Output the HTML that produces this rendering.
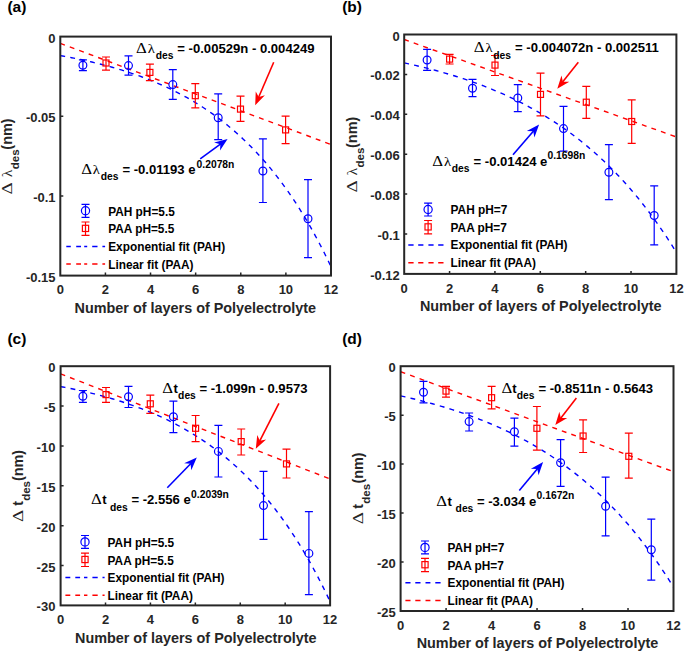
<!DOCTYPE html>
<html><head><meta charset="utf-8"><style>
html,body{margin:0;padding:0;background:#fff;overflow:hidden;}
svg{display:block;}
</style></head><body>
<svg width="685" height="653" viewBox="0 0 685 653" font-family='"Liberation Sans", sans-serif'>
<rect width="685" height="653" fill="#fff"/>
<clipPath id="ca"><rect x="60.3" y="36.6" width="270.7" height="239"/></clipPath>
<line x1="60.3" y1="43.37" x2="331" y2="144.51" stroke="#ff0000" stroke-width="1.4" stroke-dasharray="4.9 5.2" clip-path="url(#ca)"/>
<polyline points="60.3,55.61 62.56,56.01 64.81,56.42 67.07,56.83 69.32,57.26 71.58,57.69 73.83,58.13 76.09,58.58 78.35,59.05 80.6,59.52 82.86,60 85.11,60.49 87.37,60.99 89.63,61.5 91.88,62.03 94.14,62.56 96.39,63.11 98.65,63.66 100.91,64.23 103.16,64.81 105.42,65.4 107.67,66.01 109.93,66.63 112.18,67.26 114.44,67.9 116.7,68.56 118.95,69.23 121.21,69.91 123.46,70.61 125.72,71.33 127.97,72.06 130.23,72.8 132.49,73.56 134.74,74.34 137,75.13 139.25,75.94 141.51,76.76 143.77,77.61 146.02,78.47 148.28,79.35 150.53,80.24 152.79,81.16 155.05,82.1 157.3,83.05 159.56,84.03 161.81,85.02 164.07,86.04 166.32,87.08 168.58,88.14 170.84,89.22 173.09,90.33 175.35,91.45 177.6,92.61 179.86,93.78 182.12,94.98 184.37,96.21 186.63,97.46 188.88,98.74 191.14,100.04 193.39,101.37 195.65,102.73 197.91,104.12 200.16,105.54 202.42,106.99 204.67,108.47 206.93,109.98 209.19,111.52 211.44,113.09 213.7,114.69 215.95,116.33 218.21,118.01 220.46,119.72 222.72,121.46 224.98,123.25 227.23,125.06 229.49,126.92 231.74,128.82 234,130.76 236.25,132.73 238.51,134.75 240.77,136.81 243.02,138.92 245.28,141.06 247.53,143.26 249.79,145.5 252.05,147.78 254.3,150.12 256.56,152.5 258.81,154.94 261.07,157.42 263.32,159.96 265.58,162.55 267.84,165.19 270.09,167.89 272.35,170.65 274.6,173.46 276.86,176.34 279.12,179.27 281.37,182.27 283.63,185.33 285.88,188.45 288.14,191.64 290.4,194.89 292.65,198.22 294.91,201.61 297.16,205.07 299.42,208.61 301.67,212.22 303.93,215.91 306.19,219.68 308.44,223.52 310.7,227.45 312.95,231.45 315.21,235.54 317.47,239.72 319.72,243.99 321.98,248.34 324.23,252.79 326.49,257.33 328.74,261.96 331,266.69" fill="none" stroke="#0000ff" stroke-width="1.4" stroke-dasharray="4.9 5.2" clip-path="url(#ca)"/>
<path d="M82.9 59.9V70.7M78.9 59.9H86.9M78.9 70.7H86.9" stroke="#0000ff" stroke-width="1.2" fill="none"/>
<circle cx="82.9" cy="65.2" r="3.9" fill="none" stroke="#0000ff" stroke-width="1.2"/>
<path d="M128.5 55.8V75.2M124.5 55.8H132.5M124.5 75.2H132.5" stroke="#0000ff" stroke-width="1.2" fill="none"/>
<circle cx="128.5" cy="65.6" r="3.9" fill="none" stroke="#0000ff" stroke-width="1.2"/>
<path d="M172.8 69.7V99.4M168.8 69.7H176.8M168.8 99.4H176.8" stroke="#0000ff" stroke-width="1.2" fill="none"/>
<circle cx="172.8" cy="84.6" r="3.9" fill="none" stroke="#0000ff" stroke-width="1.2"/>
<path d="M218.2 93.8V139.7M214.2 93.8H222.2M214.2 139.7H222.2" stroke="#0000ff" stroke-width="1.2" fill="none"/>
<circle cx="218.2" cy="117.7" r="3.9" fill="none" stroke="#0000ff" stroke-width="1.2"/>
<path d="M262.9 138.8V202.5M258.9 138.8H266.9M258.9 202.5H266.9" stroke="#0000ff" stroke-width="1.2" fill="none"/>
<circle cx="262.9" cy="171" r="3.9" fill="none" stroke="#0000ff" stroke-width="1.2"/>
<path d="M308 179.6V257.7M304 179.6H312M304 257.7H312" stroke="#0000ff" stroke-width="1.2" fill="none"/>
<circle cx="308" cy="218.8" r="3.9" fill="none" stroke="#0000ff" stroke-width="1.2"/>
<path d="M106 57V70.1M102 57H110M102 70.1H110" stroke="#ff0000" stroke-width="1.2" fill="none"/>
<rect x="103" y="60" width="6" height="6" fill="none" stroke="#ff0000" stroke-width="1.2"/>
<path d="M149.9 64.2V80.6M145.9 64.2H153.9M145.9 80.6H153.9" stroke="#ff0000" stroke-width="1.2" fill="none"/>
<rect x="146.9" y="69.4" width="6" height="6" fill="none" stroke="#ff0000" stroke-width="1.2"/>
<path d="M195.3 83.6V107.9M191.3 83.6H199.3M191.3 107.9H199.3" stroke="#ff0000" stroke-width="1.2" fill="none"/>
<rect x="192.3" y="92.7" width="6" height="6" fill="none" stroke="#ff0000" stroke-width="1.2"/>
<path d="M240.5 96.2V121.4M236.5 96.2H244.5M236.5 121.4H244.5" stroke="#ff0000" stroke-width="1.2" fill="none"/>
<rect x="237.5" y="106.1" width="6" height="6" fill="none" stroke="#ff0000" stroke-width="1.2"/>
<path d="M285.6 116.2V143.7M281.6 116.2H289.6M281.6 143.7H289.6" stroke="#ff0000" stroke-width="1.2" fill="none"/>
<rect x="282.6" y="126.9" width="6" height="6" fill="none" stroke="#ff0000" stroke-width="1.2"/>
<rect x="60.3" y="36.6" width="270.7" height="239" fill="none" stroke="#262626" stroke-width="2"/>
<path d="M105.42 275.6V272.6M150.53 275.6V272.6M195.65 275.6V272.6M240.77 275.6V272.6M285.88 275.6V272.6M60.3 116.27H63.3M60.3 195.93H63.3" stroke="#262626" stroke-width="1.5"/>
<text x="60.3" y="294.3" font-size="13" font-weight="bold" fill="#262626" text-anchor="middle">0</text>
<text x="105.42" y="294.3" font-size="13" font-weight="bold" fill="#262626" text-anchor="middle">2</text>
<text x="150.53" y="294.3" font-size="13" font-weight="bold" fill="#262626" text-anchor="middle">4</text>
<text x="195.65" y="294.3" font-size="13" font-weight="bold" fill="#262626" text-anchor="middle">6</text>
<text x="240.77" y="294.3" font-size="13" font-weight="bold" fill="#262626" text-anchor="middle">8</text>
<text x="285.88" y="294.3" font-size="13" font-weight="bold" fill="#262626" text-anchor="middle">10</text>
<text x="331" y="294.3" font-size="13" font-weight="bold" fill="#262626" text-anchor="middle">12</text>
<text x="55.6" y="42.6" font-size="13" font-weight="bold" fill="#262626" text-anchor="end">0</text>
<text x="55.6" y="122.27" font-size="13" font-weight="bold" fill="#262626" text-anchor="end">-0.05</text>
<text x="55.6" y="201.93" font-size="13" font-weight="bold" fill="#262626" text-anchor="end">-0.1</text>
<text x="55.6" y="281.6" font-size="13" font-weight="bold" fill="#262626" text-anchor="end">-0.15</text>
<text x="195.35" y="312.8" font-size="14.4" font-weight="bold" fill="#262626" text-anchor="middle">Number of layers of Polyelectrolyte</text>
<g transform="translate(11.9,193.8) rotate(-90)" fill="#262626"><text x="0" y="0" font-family='"Liberation Serif", serif' font-size="15.5" transform="translate(-0.61,0) scale(1.22,1)">Δ</text><text x="0" y="0" font-family='"Liberation Serif", serif' font-size="14.4" transform="translate(16.6,0) scale(1.1,1)">λ</text><text x="24.6" y="6.9" font-size="11.5" font-weight="bold">des</text><text x="44.15" y="0" font-size="14.4" font-weight="bold">(nm)</text></g>
<text x="7.4" y="11.9" font-size="15.5" font-weight="bold" fill="#000">(a)</text>
<text x="0" y="0" font-family='"Liberation Serif", serif' font-size="14" fill="#000" transform="translate(135.9,53) scale(1.2,1)">Δ</text>
<text x="0" y="0" font-family='"Liberation Serif", serif' font-size="13.5" fill="#000" transform="translate(147.83,53) scale(1.08,1)">λ</text>
<text x="155.8" y="59.3" font-size="10.3" font-weight="bold" fill="#000">des</text>
<text x="177.3" y="53" font-size="13.1" font-weight="bold" fill="#000">= -0.00529n - 0.004249</text>
<text x="0" y="0" font-family='"Liberation Serif", serif' font-size="14" fill="#000" transform="translate(81.2,173.8) scale(1.2,1)">Δ</text>
<text x="0" y="0" font-family='"Liberation Serif", serif' font-size="13.5" fill="#000" transform="translate(92.73,173.8) scale(1.08,1)">λ</text>
<text x="100.7" y="179.9" font-size="10.3" font-weight="bold" fill="#000">des</text>
<text x="122.4" y="173.8" font-size="13.1" font-weight="bold" fill="#000">= -0.01193 e</text>
<text x="196.6" y="167.7" font-size="10.3" font-weight="bold" fill="#000">0.2078n</text>
<line x1="273.7" y1="62.2" x2="258.55" y2="97.49" stroke="#ff0000" stroke-width="1.6"/>
<polygon points="255.2,105.3 255.73,91.38 258.75,97.03 264.92,95.33" fill="#ff0000"/>
<line x1="200.2" y1="158.9" x2="220.73" y2="143.91" stroke="#0000ff" stroke-width="1.6"/>
<polygon points="227.6,138.9 220.05,150.6 220.33,144.21 214.15,142.53" fill="#0000ff"/>
<path d="M85.5 204.4V217.3M81.5 204.4H89.5M81.5 217.3H89.5" stroke="#0000ff" stroke-width="1.2" fill="none"/>
<circle cx="85.5" cy="210.8" r="4.1" fill="none" stroke="#0000ff" stroke-width="1.2"/>
<path d="M85.5 222V235.4M81.5 222H89.5M81.5 235.4H89.5" stroke="#ff0000" stroke-width="1.2" fill="none"/>
<rect x="82.4" y="225.3" width="6.2" height="6.2" fill="none" stroke="#ff0000" stroke-width="1.2"/>
<path d="M66.3 246.4H70.8M76.2 246.4H81M84.2 246.4H87.2M92.2 246.4H97.5M102.4 246.4H105.1" stroke="#0000ff" stroke-width="1.5" fill="none"/>
<path d="M66.3 263.9H70.8M76.2 263.9H81M84.2 263.9H87.2M92.2 263.9H97.5M102.4 263.9H105.1" stroke="#ff0000" stroke-width="1.5" fill="none"/>
<text x="108.2" y="215.6" font-size="11.85" font-weight="bold" fill="#000">PAH pH=5.5</text>
<text x="108.2" y="233.4" font-size="11.85" font-weight="bold" fill="#000">PAA pH=5.5</text>
<text x="108.2" y="250.8" font-size="11.85" font-weight="bold" fill="#000">Exponential fit (PAH)</text>
<text x="108.2" y="268.5" font-size="11.85" font-weight="bold" fill="#000">Linear fit (PAA)</text>
<clipPath id="cb"><rect x="404.2" y="34.5" width="272.2" height="239.4"/></clipPath>
<line x1="404.2" y1="39.51" x2="676.4" y2="136.99" stroke="#ff0000" stroke-width="1.4" stroke-dasharray="4.9 5.2" clip-path="url(#cb)"/>
<polyline points="404.2,62.91 406.47,63.4 408.74,63.89 411,64.39 413.27,64.91 415.54,65.43 417.81,65.96 420.08,66.49 422.35,67.04 424.62,67.6 426.88,68.17 429.15,68.74 431.42,69.33 433.69,69.93 435.96,70.53 438.22,71.15 440.49,71.78 442.76,72.42 445.03,73.06 447.3,73.73 449.57,74.4 451.83,75.08 454.1,75.78 456.37,76.48 458.64,77.2 460.91,77.93 463.18,78.68 465.44,79.43 467.71,80.2 469.98,80.98 472.25,81.78 474.52,82.59 476.79,83.41 479.06,84.25 481.32,85.1 483.59,85.97 485.86,86.85 488.13,87.75 490.4,88.66 492.66,89.59 494.93,90.53 497.2,91.49 499.47,92.47 501.74,93.46 504.01,94.47 506.27,95.5 508.54,96.54 510.81,97.6 513.08,98.68 515.35,99.78 517.62,100.9 519.88,102.04 522.15,103.19 524.42,104.37 526.69,105.57 528.96,106.78 531.23,108.02 533.5,109.28 535.76,110.56 538.03,111.86 540.3,113.19 542.57,114.54 544.84,115.91 547.11,117.3 549.37,118.72 551.64,120.16 553.91,121.63 556.18,123.12 558.45,124.64 560.72,126.18 562.98,127.75 565.25,129.35 567.52,130.97 569.79,132.62 572.06,134.31 574.33,136.01 576.59,137.75 578.86,139.52 581.13,141.32 583.4,143.15 585.67,145.01 587.93,146.9 590.2,148.83 592.47,150.78 594.74,152.78 597.01,154.8 599.28,156.86 601.55,158.96 603.81,161.09 606.08,163.26 608.35,165.46 610.62,167.7 612.89,169.98 615.15,172.3 617.42,174.66 619.69,177.07 621.96,179.51 624.23,181.99 626.5,184.52 628.76,187.08 631.03,189.7 633.3,192.36 635.57,195.06 637.84,197.81 640.11,200.6 642.38,203.45 644.64,206.34 646.91,209.29 649.18,212.28 651.45,215.32 653.72,218.42 655.99,221.57 658.25,224.77 660.52,228.03 662.79,231.35 665.06,234.72 667.33,238.15 669.6,241.63 671.86,245.18 674.13,248.79 676.4,252.46" fill="none" stroke="#0000ff" stroke-width="1.4" stroke-dasharray="4.9 5.2" clip-path="url(#cb)"/>
<path d="M427.1 49.3V70.4M423.1 49.3H431.1M423.1 70.4H431.1" stroke="#0000ff" stroke-width="1.2" fill="none"/>
<circle cx="427.1" cy="60" r="3.9" fill="none" stroke="#0000ff" stroke-width="1.2"/>
<path d="M472.5 79.4V96.7M468.5 79.4H476.5M468.5 96.7H476.5" stroke="#0000ff" stroke-width="1.2" fill="none"/>
<circle cx="472.5" cy="88.2" r="3.9" fill="none" stroke="#0000ff" stroke-width="1.2"/>
<path d="M517.8 84.7V111.7M513.8 84.7H521.8M513.8 111.7H521.8" stroke="#0000ff" stroke-width="1.2" fill="none"/>
<circle cx="517.8" cy="98" r="3.9" fill="none" stroke="#0000ff" stroke-width="1.2"/>
<path d="M563.5 106.4V151.1M559.5 106.4H567.5M559.5 151.1H567.5" stroke="#0000ff" stroke-width="1.2" fill="none"/>
<circle cx="563.5" cy="128.6" r="3.9" fill="none" stroke="#0000ff" stroke-width="1.2"/>
<path d="M608.9 144.7V199.7M604.9 144.7H612.9M604.9 199.7H612.9" stroke="#0000ff" stroke-width="1.2" fill="none"/>
<circle cx="608.9" cy="172.3" r="3.9" fill="none" stroke="#0000ff" stroke-width="1.2"/>
<path d="M654.2 185.9V244.8M650.2 185.9H658.2M650.2 244.8H658.2" stroke="#0000ff" stroke-width="1.2" fill="none"/>
<circle cx="654.2" cy="215.5" r="3.9" fill="none" stroke="#0000ff" stroke-width="1.2"/>
<path d="M449.6 54.4V64M445.6 54.4H453.6M445.6 64H453.6" stroke="#ff0000" stroke-width="1.2" fill="none"/>
<rect x="446.6" y="56.1" width="6" height="6" fill="none" stroke="#ff0000" stroke-width="1.2"/>
<path d="M495 55.5V75.5M491 55.5H499M491 75.5H499" stroke="#ff0000" stroke-width="1.2" fill="none"/>
<rect x="492" y="62.1" width="6" height="6" fill="none" stroke="#ff0000" stroke-width="1.2"/>
<path d="M540.5 73.2V115.9M536.5 73.2H544.5M536.5 115.9H544.5" stroke="#ff0000" stroke-width="1.2" fill="none"/>
<rect x="537.5" y="91.4" width="6" height="6" fill="none" stroke="#ff0000" stroke-width="1.2"/>
<path d="M586.3 86.3V118.3M582.3 86.3H590.3M582.3 118.3H590.3" stroke="#ff0000" stroke-width="1.2" fill="none"/>
<rect x="583.3" y="99.2" width="6" height="6" fill="none" stroke="#ff0000" stroke-width="1.2"/>
<path d="M631.7 99.9V143.4M627.7 99.9H635.7M627.7 143.4H635.7" stroke="#ff0000" stroke-width="1.2" fill="none"/>
<rect x="628.7" y="118.5" width="6" height="6" fill="none" stroke="#ff0000" stroke-width="1.2"/>
<rect x="404.2" y="34.5" width="272.2" height="239.4" fill="none" stroke="#262626" stroke-width="2"/>
<path d="M449.57 273.9V270.9M494.93 273.9V270.9M540.3 273.9V270.9M585.67 273.9V270.9M631.03 273.9V270.9M404.2 74.4H407.2M404.2 114.3H407.2M404.2 154.2H407.2M404.2 194.1H407.2M404.2 234H407.2" stroke="#262626" stroke-width="1.5"/>
<text x="404.2" y="292.6" font-size="13" font-weight="bold" fill="#262626" text-anchor="middle">0</text>
<text x="449.57" y="292.6" font-size="13" font-weight="bold" fill="#262626" text-anchor="middle">2</text>
<text x="494.93" y="292.6" font-size="13" font-weight="bold" fill="#262626" text-anchor="middle">4</text>
<text x="540.3" y="292.6" font-size="13" font-weight="bold" fill="#262626" text-anchor="middle">6</text>
<text x="585.67" y="292.6" font-size="13" font-weight="bold" fill="#262626" text-anchor="middle">8</text>
<text x="631.03" y="292.6" font-size="13" font-weight="bold" fill="#262626" text-anchor="middle">10</text>
<text x="676.4" y="292.6" font-size="13" font-weight="bold" fill="#262626" text-anchor="middle">12</text>
<text x="399.8" y="40.5" font-size="13" font-weight="bold" fill="#262626" text-anchor="end">0</text>
<text x="399.8" y="80.4" font-size="13" font-weight="bold" fill="#262626" text-anchor="end">-0.02</text>
<text x="399.8" y="120.3" font-size="13" font-weight="bold" fill="#262626" text-anchor="end">-0.04</text>
<text x="399.8" y="160.2" font-size="13" font-weight="bold" fill="#262626" text-anchor="end">-0.06</text>
<text x="399.8" y="200.1" font-size="13" font-weight="bold" fill="#262626" text-anchor="end">-0.08</text>
<text x="399.8" y="240" font-size="13" font-weight="bold" fill="#262626" text-anchor="end">-0.1</text>
<text x="399.8" y="279.9" font-size="13" font-weight="bold" fill="#262626" text-anchor="end">-0.12</text>
<text x="540.7" y="311.4" font-size="14.4" font-weight="bold" fill="#262626" text-anchor="middle">Number of layers of Polyelectrolyte</text>
<g transform="translate(356.6,192) rotate(-90)" fill="#262626"><text x="0" y="0" font-family='"Liberation Serif", serif' font-size="15.5" transform="translate(-0.61,0) scale(1.22,1)">Δ</text><text x="0" y="0" font-family='"Liberation Serif", serif' font-size="14.4" transform="translate(16.5,0) scale(1.1,1)">λ</text><text x="24.5" y="6.9" font-size="11.5" font-weight="bold">des</text><text x="44.05" y="0" font-size="14.4" font-weight="bold">(nm)</text></g>
<text x="342.2" y="11.9" font-size="15.5" font-weight="bold" fill="#000">(b)</text>
<text x="0" y="0" font-family='"Liberation Serif", serif' font-size="14" fill="#000" transform="translate(473.8,52.4) scale(1.2,1)">Δ</text>
<text x="0" y="0" font-family='"Liberation Serif", serif' font-size="13.5" fill="#000" transform="translate(485.53,52.4) scale(1.08,1)">λ</text>
<text x="493.3" y="58.6" font-size="10.3" font-weight="bold" fill="#000">des</text>
<text x="515" y="52.4" font-size="13.1" font-weight="bold" fill="#000">= -0.004072n - 0.002511</text>
<text x="0" y="0" font-family='"Liberation Serif", serif' font-size="14" fill="#000" transform="translate(432.2,165.8) scale(1.2,1)">Δ</text>
<text x="0" y="0" font-family='"Liberation Serif", serif' font-size="13.5" fill="#000" transform="translate(443.93,165.8) scale(1.08,1)">λ</text>
<text x="451.8" y="171.5" font-size="10.3" font-weight="bold" fill="#000">des</text>
<text x="473.5" y="165.8" font-size="13.1" font-weight="bold" fill="#000">= -0.01424 e</text>
<text x="547.5" y="159.3" font-size="10.3" font-weight="bold" fill="#000">0.1698n</text>
<line x1="578.3" y1="62.3" x2="562.59" y2="82.05" stroke="#ff0000" stroke-width="1.6"/>
<polygon points="557.3,88.7 561.48,75.41 562.9,81.66 569.31,81.64" fill="#ff0000"/>
<line x1="513" y1="154.8" x2="533.55" y2="130.94" stroke="#0000ff" stroke-width="1.6"/>
<polygon points="539.1,124.5 534.4,137.61 533.23,131.32 526.83,131.09" fill="#0000ff"/>
<path d="M428.1 203.1V216M424.1 203.1H432.1M424.1 216H432.1" stroke="#0000ff" stroke-width="1.2" fill="none"/>
<circle cx="428.1" cy="209.5" r="4.1" fill="none" stroke="#0000ff" stroke-width="1.2"/>
<path d="M428.1 220.5V233.9M424.1 220.5H432.1M424.1 233.9H432.1" stroke="#ff0000" stroke-width="1.2" fill="none"/>
<rect x="425" y="223.8" width="6.2" height="6.2" fill="none" stroke="#ff0000" stroke-width="1.2"/>
<path d="M408.3 244.9H413.6M418.2 244.9H423.4M428.4 244.9H433.6M438.2 244.9H443.5" stroke="#0000ff" stroke-width="1.5" fill="none"/>
<path d="M408.3 262.7H413.6M418.2 262.7H423.4M428.4 262.7H433.6M438.2 262.7H443.5" stroke="#ff0000" stroke-width="1.5" fill="none"/>
<text x="450.6" y="214.3" font-size="11.85" font-weight="bold" fill="#000">PAH pH=7</text>
<text x="450.6" y="231.9" font-size="11.85" font-weight="bold" fill="#000">PAA pH=7</text>
<text x="450.6" y="249.2" font-size="11.85" font-weight="bold" fill="#000">Exponential fit (PAH)</text>
<text x="450.6" y="266.7" font-size="11.85" font-weight="bold" fill="#000">Linear fit (PAA)</text>
<clipPath id="cc"><rect x="60.6" y="366.2" width="269.5" height="239.2"/></clipPath>
<line x1="60.6" y1="373.83" x2="330.1" y2="478.99" stroke="#ff0000" stroke-width="1.4" stroke-dasharray="4.9 5.2" clip-path="url(#cc)"/>
<polyline points="60.6,386.58 62.85,387 65.09,387.43 67.34,387.87 69.58,388.31 71.83,388.77 74.08,389.23 76.32,389.71 78.57,390.19 80.81,390.68 83.06,391.19 85.3,391.7 87.55,392.23 89.8,392.77 92.04,393.31 94.29,393.87 96.53,394.44 98.78,395.02 101.03,395.62 103.27,396.22 105.52,396.84 107.76,397.47 110.01,398.12 112.25,398.77 114.5,399.45 116.75,400.13 118.99,400.83 121.24,401.54 123.48,402.27 125.73,403.01 127.97,403.77 130.22,404.55 132.47,405.34 134.71,406.14 136.96,406.96 139.2,407.8 141.45,408.66 143.7,409.54 145.94,410.43 148.19,411.34 150.43,412.27 152.68,413.22 154.93,414.19 157.17,415.18 159.42,416.18 161.66,417.21 163.91,418.26 166.15,419.34 168.4,420.43 170.65,421.55 172.89,422.69 175.14,423.85 177.38,425.04 179.63,426.25 181.88,427.49 184.12,428.75 186.37,430.04 188.61,431.36 190.86,432.7 193.1,434.07 195.35,435.47 197.6,436.89 199.84,438.35 202.09,439.83 204.33,441.35 206.58,442.9 208.82,444.48 211.07,446.09 213.32,447.74 215.56,449.42 217.81,451.13 220.05,452.88 222.3,454.67 224.55,456.49 226.79,458.35 229.04,460.25 231.28,462.18 233.53,464.16 235.78,466.18 238.02,468.24 240.27,470.34 242.51,472.49 244.76,474.68 247,476.91 249.25,479.19 251.5,481.52 253.74,483.89 255.99,486.32 258.23,488.79 260.48,491.32 262.73,493.9 264.97,496.53 267.22,499.21 269.46,501.95 271.71,504.75 273.95,507.6 276.2,510.51 278.45,513.49 280.69,516.52 282.94,519.62 285.18,522.78 287.43,526 289.68,529.29 291.92,532.65 294.17,536.08 296.41,539.58 298.66,543.15 300.9,546.8 303.15,550.52 305.4,554.32 307.64,558.19 309.89,562.15 312.13,566.18 314.38,570.3 316.62,574.51 318.87,578.8 321.12,583.18 323.36,587.65 325.61,592.21 327.85,596.86 330.1,601.61" fill="none" stroke="#0000ff" stroke-width="1.4" stroke-dasharray="4.9 5.2" clip-path="url(#cc)"/>
<path d="M82.9 390.5V402.4M78.9 390.5H86.9M78.9 402.4H86.9" stroke="#0000ff" stroke-width="1.2" fill="none"/>
<circle cx="82.9" cy="396.2" r="3.9" fill="none" stroke="#0000ff" stroke-width="1.2"/>
<path d="M128.5 386.4V407.5M124.5 386.4H132.5M124.5 407.5H132.5" stroke="#0000ff" stroke-width="1.2" fill="none"/>
<circle cx="128.5" cy="396.7" r="3.9" fill="none" stroke="#0000ff" stroke-width="1.2"/>
<path d="M173.4 401.2V432.6M169.4 401.2H177.4M169.4 432.6H177.4" stroke="#0000ff" stroke-width="1.2" fill="none"/>
<circle cx="173.4" cy="416.7" r="3.9" fill="none" stroke="#0000ff" stroke-width="1.2"/>
<path d="M218.4 425.3V477M214.4 425.3H222.4M214.4 477H222.4" stroke="#0000ff" stroke-width="1.2" fill="none"/>
<circle cx="218.4" cy="451.4" r="3.9" fill="none" stroke="#0000ff" stroke-width="1.2"/>
<path d="M263.5 471.3V539.3M259.5 471.3H267.5M259.5 539.3H267.5" stroke="#0000ff" stroke-width="1.2" fill="none"/>
<circle cx="263.5" cy="505.6" r="3.9" fill="none" stroke="#0000ff" stroke-width="1.2"/>
<path d="M308.9 511.7V594.7M304.9 511.7H312.9M304.9 594.7H312.9" stroke="#0000ff" stroke-width="1.2" fill="none"/>
<circle cx="308.9" cy="553.4" r="3.9" fill="none" stroke="#0000ff" stroke-width="1.2"/>
<path d="M106 387.5V402.4M102 387.5H110M102 402.4H110" stroke="#ff0000" stroke-width="1.2" fill="none"/>
<rect x="103" y="391.6" width="6" height="6" fill="none" stroke="#ff0000" stroke-width="1.2"/>
<path d="M150.3 395.2V413.4M146.3 395.2H154.3M146.3 413.4H154.3" stroke="#ff0000" stroke-width="1.2" fill="none"/>
<rect x="147.3" y="400.8" width="6" height="6" fill="none" stroke="#ff0000" stroke-width="1.2"/>
<path d="M195.6 415.5V441.6M191.6 415.5H199.6M191.6 441.6H199.6" stroke="#ff0000" stroke-width="1.2" fill="none"/>
<rect x="192.6" y="425.3" width="6" height="6" fill="none" stroke="#ff0000" stroke-width="1.2"/>
<path d="M241.2 429V455M237.2 429H245.2M237.2 455H245.2" stroke="#ff0000" stroke-width="1.2" fill="none"/>
<rect x="238.2" y="438.6" width="6" height="6" fill="none" stroke="#ff0000" stroke-width="1.2"/>
<path d="M286.5 449.2V478M282.5 449.2H290.5M282.5 478H290.5" stroke="#ff0000" stroke-width="1.2" fill="none"/>
<rect x="283.5" y="460.9" width="6" height="6" fill="none" stroke="#ff0000" stroke-width="1.2"/>
<rect x="60.6" y="366.2" width="269.5" height="239.2" fill="none" stroke="#262626" stroke-width="2"/>
<path d="M105.52 605.4V602.4M150.43 605.4V602.4M195.35 605.4V602.4M240.27 605.4V602.4M285.18 605.4V602.4M60.6 406.07H63.6M60.6 445.93H63.6M60.6 485.8H63.6M60.6 525.67H63.6M60.6 565.53H63.6" stroke="#262626" stroke-width="1.5"/>
<text x="60.6" y="623.7" font-size="13" font-weight="bold" fill="#262626" text-anchor="middle">0</text>
<text x="105.52" y="623.7" font-size="13" font-weight="bold" fill="#262626" text-anchor="middle">2</text>
<text x="150.43" y="623.7" font-size="13" font-weight="bold" fill="#262626" text-anchor="middle">4</text>
<text x="195.35" y="623.7" font-size="13" font-weight="bold" fill="#262626" text-anchor="middle">6</text>
<text x="240.27" y="623.7" font-size="13" font-weight="bold" fill="#262626" text-anchor="middle">8</text>
<text x="285.18" y="623.7" font-size="13" font-weight="bold" fill="#262626" text-anchor="middle">10</text>
<text x="330.1" y="623.7" font-size="13" font-weight="bold" fill="#262626" text-anchor="middle">12</text>
<text x="55.4" y="372.2" font-size="13" font-weight="bold" fill="#262626" text-anchor="end">0</text>
<text x="55.4" y="412.07" font-size="13" font-weight="bold" fill="#262626" text-anchor="end">-5</text>
<text x="55.4" y="451.93" font-size="13" font-weight="bold" fill="#262626" text-anchor="end">-10</text>
<text x="55.4" y="491.8" font-size="13" font-weight="bold" fill="#262626" text-anchor="end">-15</text>
<text x="55.4" y="531.67" font-size="13" font-weight="bold" fill="#262626" text-anchor="end">-20</text>
<text x="55.4" y="571.53" font-size="13" font-weight="bold" fill="#262626" text-anchor="end">-25</text>
<text x="55.4" y="611.4" font-size="13" font-weight="bold" fill="#262626" text-anchor="end">-30</text>
<text x="195.75" y="642.5" font-size="14.4" font-weight="bold" fill="#262626" text-anchor="middle">Number of layers of Polyelectrolyte</text>
<g transform="translate(22.8,521.4) rotate(-90)" fill="#262626"><text x="0" y="0" font-family='"Liberation Serif", serif' font-size="15.5" transform="translate(-0.61,0) scale(1.22,1)">Δ</text><text x="15.55" y="0" font-size="14.2" font-weight="bold">t</text><text x="20.55" y="6.9" font-size="11.5" font-weight="bold">des</text><text x="40.3" y="0" font-size="14.4" font-weight="bold">(nm)</text></g>
<text x="7.4" y="344.4" font-size="15.5" font-weight="bold" fill="#000">(c)</text>
<text x="0" y="0" font-family='"Liberation Serif", serif' font-size="14" fill="#000" transform="translate(162.2,392.9) scale(1.2,1)">Δ</text>
<text x="173.55" y="392.9" font-size="13.1" font-weight="bold" fill="#000">t</text>
<text x="178.1" y="399.3" font-size="10.3" font-weight="bold" fill="#000">des</text>
<text x="199.4" y="392.9" font-size="13.1" font-weight="bold" fill="#000">= -1.099n - 0.9573</text>
<text x="0" y="0" font-family='"Liberation Serif", serif' font-size="14" fill="#000" transform="translate(91,504.3) scale(1.2,1)">Δ</text>
<text x="102.25" y="504.3" font-size="13.1" font-weight="bold" fill="#000">t</text>
<text x="110" y="510.7" font-size="10.3" font-weight="bold" fill="#000">des</text>
<text x="131.4" y="504.3" font-size="13.1" font-weight="bold" fill="#000">= -2.556 e</text>
<text x="191.1" y="497.7" font-size="10.3" font-weight="bold" fill="#000">0.2039n</text>
<line x1="278.9" y1="403.4" x2="259.65" y2="441.22" stroke="#ff0000" stroke-width="1.6"/>
<polygon points="255.8,448.8 257.24,434.95 259.88,440.78 266.15,439.48" fill="#ff0000"/>
<line x1="167.3" y1="487.7" x2="190.87" y2="463.49" stroke="#0000ff" stroke-width="1.6"/>
<polygon points="196.8,457.4 191.31,470.2 190.52,463.85 184.15,463.23" fill="#0000ff"/>
<path d="M85 535.5V548.4M81 535.5H89M81 548.4H89" stroke="#0000ff" stroke-width="1.2" fill="none"/>
<circle cx="85" cy="541.9" r="4.1" fill="none" stroke="#0000ff" stroke-width="1.2"/>
<path d="M85 553.1V566.5M81 553.1H89M81 566.5H89" stroke="#ff0000" stroke-width="1.2" fill="none"/>
<rect x="81.9" y="556.4" width="6.2" height="6.2" fill="none" stroke="#ff0000" stroke-width="1.2"/>
<path d="M65.4 577.4H70.3M75.3 577.4H80.1M84 577.4H87.4M92.4 577.4H97.7M102.5 577.4H104.6" stroke="#0000ff" stroke-width="1.5" fill="none"/>
<path d="M65.4 595.3H70.3M75.3 595.3H80.1M84 595.3H87.4M92.4 595.3H97.7M102.5 595.3H104.6" stroke="#ff0000" stroke-width="1.5" fill="none"/>
<text x="107.6" y="546.7" font-size="11.85" font-weight="bold" fill="#000">PAH pH=5.5</text>
<text x="107.6" y="564.5" font-size="11.85" font-weight="bold" fill="#000">PAA pH=5.5</text>
<text x="107.6" y="581.7" font-size="11.85" font-weight="bold" fill="#000">Exponential fit (PAH)</text>
<text x="107.6" y="599.5" font-size="11.85" font-weight="bold" fill="#000">Linear fit (PAA)</text>
<clipPath id="cd"><rect x="400.6" y="366.2" width="272.9" height="244.8"/></clipPath>
<line x1="400.6" y1="371.73" x2="673.5" y2="471.73" stroke="#ff0000" stroke-width="1.4" stroke-dasharray="4.9 5.2" clip-path="url(#cd)"/>
<polyline points="400.6,395.91 402.87,396.41 405.15,396.92 407.42,397.44 409.7,397.96 411.97,398.5 414.25,399.04 416.52,399.6 418.79,400.16 421.07,400.73 423.34,401.32 425.62,401.91 427.89,402.51 430.16,403.12 432.44,403.74 434.71,404.38 436.99,405.02 439.26,405.68 441.54,406.34 443.81,407.02 446.08,407.71 448.36,408.41 450.63,409.12 452.91,409.84 455.18,410.58 457.45,411.33 459.73,412.09 462,412.86 464.28,413.65 466.55,414.45 468.83,415.26 471.1,416.09 473.37,416.93 475.65,417.78 477.92,418.65 480.2,419.54 482.47,420.44 484.74,421.35 487.02,422.28 489.29,423.23 491.57,424.19 493.84,425.17 496.12,426.16 498.39,427.17 500.66,428.2 502.94,429.24 505.21,430.31 507.49,431.39 509.76,432.49 512.03,433.61 514.31,434.74 516.58,435.9 518.86,437.07 521.13,438.27 523.4,439.48 525.68,440.72 527.95,441.97 530.23,443.25 532.5,444.55 534.78,445.87 537.05,447.22 539.32,448.58 541.6,449.97 543.87,451.38 546.15,452.82 548.42,454.28 550.7,455.77 552.97,457.28 555.24,458.81 557.52,460.37 559.79,461.96 562.07,463.57 564.34,465.22 566.61,466.89 568.89,468.58 571.16,470.31 573.44,472.07 575.71,473.85 577.99,475.67 580.26,477.51 582.53,479.39 584.81,481.3 587.08,483.24 589.36,485.21 591.63,487.22 593.9,489.26 596.18,491.33 598.45,493.44 600.73,495.59 603,497.77 605.27,499.99 607.55,502.24 609.82,504.54 612.1,506.87 614.37,509.24 616.65,511.65 618.92,514.1 621.19,516.6 623.47,519.13 625.74,521.71 628.02,524.33 630.29,527 632.57,529.71 634.84,532.47 637.11,535.27 639.39,538.12 641.66,541.02 643.94,543.97 646.21,546.97 648.48,550.01 650.76,553.11 653.03,556.27 655.31,559.47 657.58,562.73 659.86,566.04 662.13,569.41 664.4,572.84 666.68,576.32 668.95,579.86 671.23,583.47 673.5,587.13" fill="none" stroke="#0000ff" stroke-width="1.4" stroke-dasharray="4.9 5.2" clip-path="url(#cd)"/>
<path d="M423.5 381.3V402.8M419.5 381.3H427.5M419.5 402.8H427.5" stroke="#0000ff" stroke-width="1.2" fill="none"/>
<circle cx="423.5" cy="392.2" r="3.9" fill="none" stroke="#0000ff" stroke-width="1.2"/>
<path d="M469.1 413V431M465.1 413H473.1M465.1 431H473.1" stroke="#0000ff" stroke-width="1.2" fill="none"/>
<circle cx="469.1" cy="421.6" r="3.9" fill="none" stroke="#0000ff" stroke-width="1.2"/>
<path d="M514.4 418.1V446.1M510.4 418.1H518.4M510.4 446.1H518.4" stroke="#0000ff" stroke-width="1.2" fill="none"/>
<circle cx="514.4" cy="431.8" r="3.9" fill="none" stroke="#0000ff" stroke-width="1.2"/>
<path d="M560.6 439.6V486.3M556.6 439.6H564.6M556.6 486.3H564.6" stroke="#0000ff" stroke-width="1.2" fill="none"/>
<circle cx="560.6" cy="462.8" r="3.9" fill="none" stroke="#0000ff" stroke-width="1.2"/>
<path d="M605.6 477.2V535.8M601.6 477.2H609.6M601.6 535.8H609.6" stroke="#0000ff" stroke-width="1.2" fill="none"/>
<circle cx="605.6" cy="506.2" r="3.9" fill="none" stroke="#0000ff" stroke-width="1.2"/>
<path d="M651.3 519.1V580.2M647.3 519.1H655.3M647.3 580.2H655.3" stroke="#0000ff" stroke-width="1.2" fill="none"/>
<circle cx="651.3" cy="549.7" r="3.9" fill="none" stroke="#0000ff" stroke-width="1.2"/>
<path d="M446 386.4V397.1M442 386.4H450M442 397.1H450" stroke="#ff0000" stroke-width="1.2" fill="none"/>
<rect x="443" y="388.1" width="6" height="6" fill="none" stroke="#ff0000" stroke-width="1.2"/>
<path d="M491.6 386.4V408.9M487.6 386.4H495.6M487.6 408.9H495.6" stroke="#ff0000" stroke-width="1.2" fill="none"/>
<rect x="488.6" y="394.7" width="6" height="6" fill="none" stroke="#ff0000" stroke-width="1.2"/>
<path d="M536.9 406.5V450.2M532.9 406.5H540.9M532.9 450.2H540.9" stroke="#ff0000" stroke-width="1.2" fill="none"/>
<rect x="533.9" y="425.3" width="6" height="6" fill="none" stroke="#ff0000" stroke-width="1.2"/>
<path d="M583.1 419.8V452.5M579.1 419.8H587.1M579.1 452.5H587.1" stroke="#ff0000" stroke-width="1.2" fill="none"/>
<rect x="580.1" y="433" width="6" height="6" fill="none" stroke="#ff0000" stroke-width="1.2"/>
<path d="M628.8 433.2V478.2M624.8 433.2H632.8M624.8 478.2H632.8" stroke="#ff0000" stroke-width="1.2" fill="none"/>
<rect x="625.8" y="453.3" width="6" height="6" fill="none" stroke="#ff0000" stroke-width="1.2"/>
<rect x="400.6" y="366.2" width="272.9" height="244.8" fill="none" stroke="#262626" stroke-width="2"/>
<path d="M446.08 611V608M491.57 611V608M537.05 611V608M582.53 611V608M628.02 611V608M400.6 415.16H403.6M400.6 464.12H403.6M400.6 513.08H403.6M400.6 562.04H403.6" stroke="#262626" stroke-width="1.5"/>
<text x="400.6" y="629.8" font-size="13" font-weight="bold" fill="#262626" text-anchor="middle">0</text>
<text x="446.08" y="629.8" font-size="13" font-weight="bold" fill="#262626" text-anchor="middle">2</text>
<text x="491.57" y="629.8" font-size="13" font-weight="bold" fill="#262626" text-anchor="middle">4</text>
<text x="537.05" y="629.8" font-size="13" font-weight="bold" fill="#262626" text-anchor="middle">6</text>
<text x="582.53" y="629.8" font-size="13" font-weight="bold" fill="#262626" text-anchor="middle">8</text>
<text x="628.02" y="629.8" font-size="13" font-weight="bold" fill="#262626" text-anchor="middle">10</text>
<text x="673.5" y="629.8" font-size="13" font-weight="bold" fill="#262626" text-anchor="middle">12</text>
<text x="395.8" y="372.2" font-size="13" font-weight="bold" fill="#262626" text-anchor="end">0</text>
<text x="395.8" y="421.16" font-size="13" font-weight="bold" fill="#262626" text-anchor="end">-5</text>
<text x="395.8" y="470.12" font-size="13" font-weight="bold" fill="#262626" text-anchor="end">-10</text>
<text x="395.8" y="519.08" font-size="13" font-weight="bold" fill="#262626" text-anchor="end">-15</text>
<text x="395.8" y="568.04" font-size="13" font-weight="bold" fill="#262626" text-anchor="end">-20</text>
<text x="395.8" y="617" font-size="13" font-weight="bold" fill="#262626" text-anchor="end">-25</text>
<text x="537.45" y="648.4" font-size="14.4" font-weight="bold" fill="#262626" text-anchor="middle">Number of layers of Polyelectrolyte</text>
<g transform="translate(362.6,523.6) rotate(-90)" fill="#262626"><text x="0" y="0" font-family='"Liberation Serif", serif' font-size="15.5" transform="translate(-0.61,0) scale(1.22,1)">Δ</text><text x="14.95" y="0" font-size="14.2" font-weight="bold">t</text><text x="19.95" y="6.9" font-size="11.5" font-weight="bold">des</text><text x="40" y="0" font-size="14.4" font-weight="bold">(nm)</text></g>
<text x="342.2" y="344.2" font-size="15.5" font-weight="bold" fill="#000">(d)</text>
<text x="0" y="0" font-family='"Liberation Serif", serif' font-size="14" fill="#000" transform="translate(501.4,392.7) scale(1.2,1)">Δ</text>
<text x="512.35" y="392.7" font-size="13.1" font-weight="bold" fill="#000">t</text>
<text x="516.7" y="399" font-size="10.3" font-weight="bold" fill="#000">des</text>
<text x="538.4" y="392.7" font-size="13.1" font-weight="bold" fill="#000">= -0.8511n - 0.5643</text>
<text x="0" y="0" font-family='"Liberation Serif", serif' font-size="14" fill="#000" transform="translate(436.2,505.8) scale(1.2,1)">Δ</text>
<text x="447.55" y="505.8" font-size="13.1" font-weight="bold" fill="#000">t</text>
<text x="455.6" y="511.5" font-size="10.3" font-weight="bold" fill="#000">des</text>
<text x="476.9" y="505.8" font-size="13.1" font-weight="bold" fill="#000">= -3.034 e</text>
<text x="536.6" y="499.1" font-size="10.3" font-weight="bold" fill="#000">0.1672n</text>
<line x1="576.4" y1="398" x2="560.52" y2="418.39" stroke="#ff0000" stroke-width="1.6"/>
<polygon points="555.3,425.1 559.34,411.77 560.83,418 567.23,417.91" fill="#ff0000"/>
<line x1="519.3" y1="490.4" x2="537.63" y2="468.61" stroke="#0000ff" stroke-width="1.6"/>
<polygon points="543.1,462.1 538.56,475.27 537.31,468.99 530.91,468.83" fill="#0000ff"/>
<path d="M425 541V553.9M421 541H429M421 553.9H429" stroke="#0000ff" stroke-width="1.2" fill="none"/>
<circle cx="425" cy="547.4" r="4.1" fill="none" stroke="#0000ff" stroke-width="1.2"/>
<path d="M425 558.3V571.7M421 558.3H429M421 571.7H429" stroke="#ff0000" stroke-width="1.2" fill="none"/>
<rect x="421.9" y="561.6" width="6.2" height="6.2" fill="none" stroke="#ff0000" stroke-width="1.2"/>
<path d="M405.4 582.7H410.5M415.3 582.7H420.5M425.5 582.7H430.4M435.3 582.7H440.6" stroke="#0000ff" stroke-width="1.5" fill="none"/>
<path d="M405.4 600.5H410.5M415.3 600.5H420.5M425.5 600.5H430.4M435.3 600.5H440.6" stroke="#ff0000" stroke-width="1.5" fill="none"/>
<text x="447.6" y="552.2" font-size="11.85" font-weight="bold" fill="#000">PAH pH=7</text>
<text x="447.6" y="569.7" font-size="11.85" font-weight="bold" fill="#000">PAA pH=7</text>
<text x="447.6" y="587.3" font-size="11.85" font-weight="bold" fill="#000">Exponential fit (PAH)</text>
<text x="447.6" y="604.5" font-size="11.85" font-weight="bold" fill="#000">Linear fit (PAA)</text>
</svg>
</body></html>
